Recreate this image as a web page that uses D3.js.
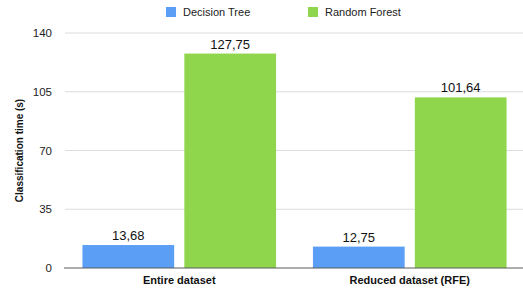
<!DOCTYPE html>
<html>
<head>
<meta charset="utf-8">
<script src="https://cdn.jsdelivr.net/npm/d3@7"></script>
<style>
  body { margin: 0; background: #fff; }
  text { font-family: "Liberation Sans", Arial, sans-serif; }
</style>
</head>
<body>
<div id="container"></div>
<script>
let categories = ["Entire dataset", "Reduced dataset (RFE)"];
let series_names = ["Decision Tree", "Random Forest"];
let decision_tree = [13.68, 12.75];
let random_forest = [127.75, 101.64];
let y_ticks = [0, 35, 70, 105, 140];
let colors = ["#5b9ef6", "#8fd64c"];

let width = 523;
let height = 291;
let margin = ({ top: 33, right: -2, bottom: 23, left: 64 });

let locale = d3.formatLocale({ decimal: ",", thousands: ".", grouping: [3], currency: ["", ""] });
let fmt = locale.format(".2f");

let svg = d3.select("#container")
  .append("svg")
  .attr("width", width)
  .attr("height", height);

let x0 = d3.scaleBand()
  .domain(categories)
  .range([margin.left, width - margin.right])
  .paddingInner(0.16)
  .paddingOuter(0.08);

let x1 = d3.scaleBand()
  .domain(series_names)
  .range([0, x0.bandwidth()])
  .paddingInner(0.1);

let y = d3.scaleLinear()
  .domain([0, 140])
  .range([height - margin.bottom, margin.top]);

// gridlines
svg.append("g")
  .selectAll("line")
  .data(y_ticks.filter(d => d > 0))
  .enter()
  .append("line")
  .attr("x1", margin.left + 1)
  .attr("x2", width)
  .attr("y1", d => y(d))
  .attr("y2", d => y(d))
  .attr("stroke", "#dcdcdc")
  .attr("stroke-width", 1);

// y axis
let yAxis = svg.append("g")
  .attr("transform", "translate(" + margin.left + ",0)")
  .call(d3.axisLeft(y).tickValues(y_ticks).tickSize(0).tickPadding(12));
yAxis.select(".domain").remove();
yAxis.selectAll("text")
  .attr("font-size", "11.5px")
  .attr("fill", "#222")
  .style("font-family", "Liberation Sans, Arial, sans-serif");

svg.append("text")
  .attr("transform", "translate(23," + ((margin.top + height - margin.bottom) / 2) + ") rotate(-90)")
  .attr("text-anchor", "middle")
  .attr("font-size", "10px")
  .attr("font-weight", "bold")
  .attr("fill", "#111")
  .text("Classification time (s)");

// bars
let rows = categories.map((c, i) => ({ cat: c, values: [decision_tree[i], random_forest[i]] }));

let groups = svg.append("g")
  .selectAll("g")
  .data(rows)
  .enter()
  .append("g")
  .attr("transform", d => "translate(" + x0(d.cat) + ",0)");

groups.selectAll("rect")
  .data(d => d.values.map((v, j) => ({ name: series_names[j], value: v, idx: j })))
  .enter()
  .append("rect")
  .attr("x", d => x1(d.name))
  .attr("y", d => y(d.value))
  .attr("width", x1.bandwidth())
  .attr("height", d => y(0) - y(d.value))
  .attr("fill", d => colors[d.idx]);

groups.selectAll(".val")
  .data(d => d.values.map((v, j) => ({ name: series_names[j], value: v })))
  .enter()
  .append("text")
  .attr("class", "val")
  .attr("x", d => x1(d.name) + x1.bandwidth() / 2)
  .attr("y", d => y(d.value) - 5)
  .attr("text-anchor", "middle")
  .attr("font-size", "13px")
  .attr("fill", "#111")
  .text(d => fmt(d.value));

// baseline
svg.append("line")
  .attr("x1", margin.left)
  .attr("x2", width)
  .attr("y1", y(0))
  .attr("y2", y(0))
  .attr("stroke", "#5a5a5a")
  .attr("stroke-width", 1);

// category labels
svg.append("g")
  .selectAll("text")
  .data(categories)
  .enter()
  .append("text")
  .attr("x", d => x0(d) + x0.bandwidth() / 2)
  .attr("y", y(0) + 16)
  .attr("text-anchor", "middle")
  .attr("font-size", "11px")
  .attr("font-weight", "bold")
  .attr("fill", "#111")
  .text(d => d);

// legend
let legend_x = [166, 308];
let legend = svg.append("g")
  .selectAll("g")
  .data(series_names)
  .enter()
  .append("g")
  .attr("transform", (d, i) => "translate(" + legend_x[i] + ",7)");

legend.append("rect")
  .attr("width", 10)
  .attr("height", 10)
  .attr("fill", (d, i) => colors[i]);

legend.append("text")
  .attr("x", 17)
  .attr("y", 9)
  .attr("font-size", "11px")
  .attr("fill", "#222")
  .text(d => d);
</script>
</body>
</html>
